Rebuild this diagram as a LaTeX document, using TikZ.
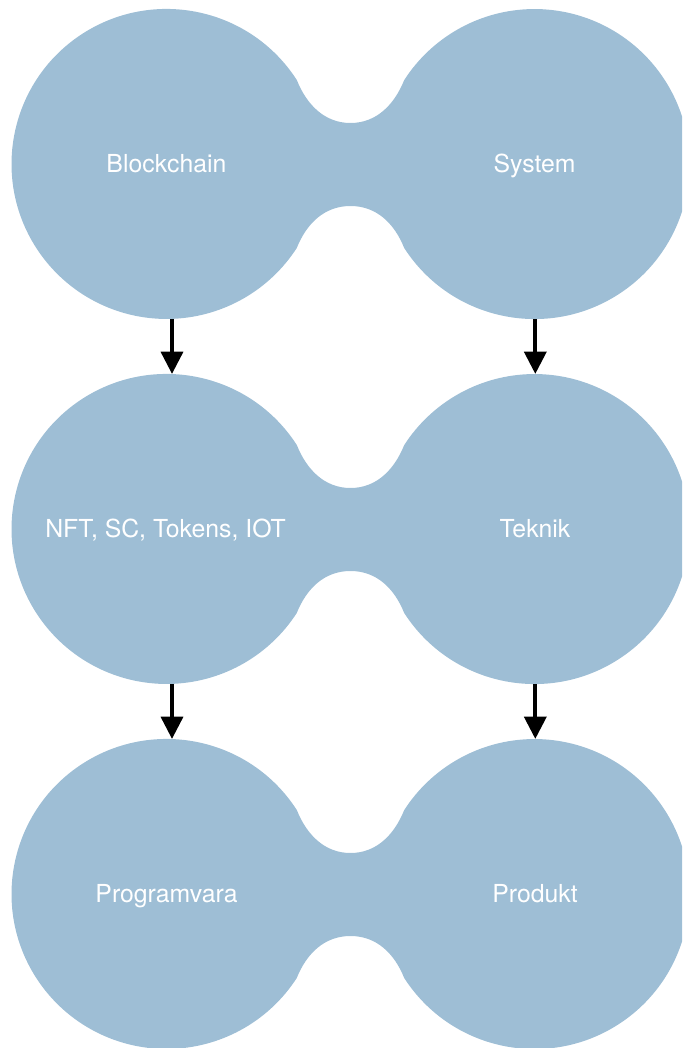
\documentclass[tikz,border=0pt]{standalone}
\usepackage{fontspec}
\setmainfont{TeX Gyre Heros}
\usetikzlibrary{arrows.meta}
\definecolor{lobeblue}{HTML}{9EBED5}
\tikzset{
  lobe/.style={fill=lobeblue, draw=none},
  lbl/.style={text=white, font=\fontsize{24.8}{29}\selectfont, anchor=base, inner sep=0pt},
  flow/.style={draw=black, line width=4.3pt, -{Triangle[width=21.7pt,length=22.3pt]}},
}
\newcommand{\dumbbell}[1]{%
  \fill[lobe] (296.8,#1+84) arc[start angle=32.8, end angle=327.2, radius=155]
    .. controls (306.8,#1-59) and (324.8,#1-42) .. (350.5,#1-42)
    .. controls (376.2,#1-42) and (394.2,#1-59) .. (404.2,#1-84)
    arc[start angle=212.8, end angle=507.2, radius=155]
    .. controls (394.2,#1+59) and (376.2,#1+41) .. (350.5,#1+41)
    .. controls (324.8,#1+41) and (306.8,#1+59) .. (296.8,#1+84) -- cycle;}
\begin{document}
\begin{tikzpicture}[x=1pt,y=1pt]
\useasboundingbox (0,0) rectangle (682,-1048);
\clip (0,0) rectangle (682,-1048);
\dumbbell{-164}
\dumbbell{-529}
\dumbbell{-894}
\node[lbl] (blockchain) at (166.5,-173) {Blockchain};
\node[lbl] (system) at (534.5,-173) {System};
\node[lbl] (nft) at (165.5,-537.5) {NFT, SC, Tokens, IOT};
\node[lbl] (teknik) at (535,-537.5) {Teknik};
\node[lbl] (programvara) at (166.5,-902.5) {Programvara};
\node[lbl] (produkt) at (535,-902.5) {Produkt};
\coordinate (r1lb) at (172,-319);
\coordinate (r2lt) at (172,-374);
\coordinate (r1rb) at (535.3,-319);
\coordinate (r2rt) at (535.3,-374);
\coordinate (r2lb) at (172,-684);
\coordinate (r3lt) at (172,-739);
\coordinate (r2rb) at (535.3,-684);
\coordinate (r3rt) at (535.3,-739);
\draw[flow] (r1lb) -- (r2lt);
\draw[flow] (r1rb) -- (r2rt);
\draw[flow] (r2lb) -- (r3lt);
\draw[flow] (r2rb) -- (r3rt);
\end{tikzpicture}
\end{document}
